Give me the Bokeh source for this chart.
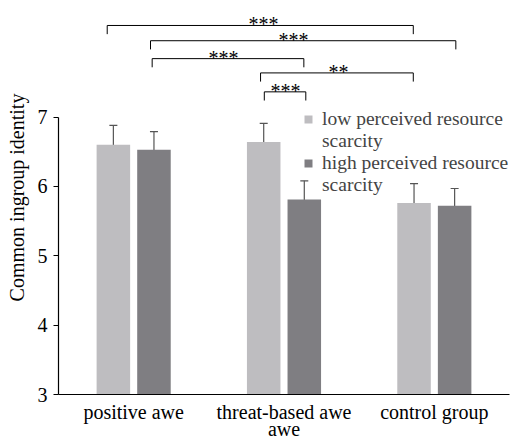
from bokeh.plotting import figure
from bokeh.models import (ColumnDataSource, FactorRange, Range1d, Whisker, TeeHead,
                          Legend, LegendItem, FixedTicker)
from bokeh.transform import dodge
from bokeh.core.properties import value
from bokeh.embed import file_html
from bokeh.resources import INLINE

# ---- data ----
groups = ["positive awe", "threat-based awe\nawe", "control group"]
series_lines = [["low perceived resource", "scarcity"], ["high perceived resource", "scarcity"]]
low_mean = [6.60, 6.64, 5.76]
low_upper = [6.88, 6.91, 6.04]
low_lower = [6.31, 6.35, 5.46]
high_mean = [6.53, 5.81, 5.72]
high_upper = [6.79, 6.08, 5.97]
high_lower = [6.27, 5.56, 5.45]
y_ticks = [3, 4, 5, 6, 7]
y_label = "Common ingroup identity"

# significance annotations
sig_labels = ["***", "***", "***", "**", "***"]
sig_x0 = [0.324, 0.612, 0.623, 1.344, 1.369]
sig_x1 = [2.360, 2.643, 1.632, 2.360, 1.645]
sig_y = [8.32, 8.10, 7.842, 7.636, 7.363]
sig_text_x = [1.364, 1.564, 1.098, 1.863, 1.51]

# ---- styles ----
FONT = "Liberation Serif"
FS = "20px"
LIGHT = "#bebdc0"
DARK = "#7f7e82"
ERR = "#555555"
OFF = 0.135
BW = 0.223
TICK_DROP = 0.125

src = ColumnDataSource(dict(group=groups, low=low_mean, low_up=low_upper, low_lo=low_lower,
                            high=high_mean, high_up=high_upper, high_lo=high_lower))

p = figure(x_range=FactorRange(factors=groups, range_padding=0, factor_padding=0),
           y_range=Range1d(3, 8.68),
           width=517, height=443, output_backend="svg", toolbar_location=None,
           min_border_left=58, min_border_right=8, min_border_top=0, min_border_bottom=20)
p.outline_line_color = None
p.xgrid.visible = False
p.ygrid.visible = False
p.background_fill_color = "white"

r_low = p.vbar(x=dodge("group", -OFF, range=p.x_range), top="low", bottom=3, width=BW,
               source=src, fill_color=LIGHT, line_color=None)
r_high = p.vbar(x=dodge("group", OFF, range=p.x_range), top="high", bottom=3, width=BW,
                source=src, fill_color=DARK, line_color=None)
# empty, invisible renderer used only for the legend's continuation lines
r_blank = p.scatter(x=[], y=[], marker="square", fill_alpha=0, line_alpha=0)

for key, off in (("low", -OFF), ("high", OFF)):
    w = Whisker(source=src, base=dodge("group", off, range=p.x_range),
                upper=key + "_up", lower=key + "_lo", line_color=ERR, line_width=1.2,
                upper_head=TeeHead(size=8, line_color=ERR, line_width=1.2),
                lower_head=TeeHead(size=8, line_color=ERR, line_width=1.2))
    p.add_layout(w)

# brackets
xs = [[a, a, b, b] for a, b in zip(sig_x0, sig_x1)]
ys = [[y - TICK_DROP, y, y, y - TICK_DROP] for y in sig_y]
p.multi_line(xs=xs, ys=ys, line_color="black", line_width=1)
p.text(x=sig_text_x, y=[y + 0.015 for y in sig_y], text=sig_labels, text_align="center",
       text_baseline="alphabetic", text_font=value(FONT), text_font_size=FS, text_color="black")

# axes
xa = p.xaxis[0]
xa.major_tick_line_color = None
xa.major_tick_out = 0
xa.major_tick_in = 0
xa.minor_tick_line_color = None
xa.axis_line_color = "black"
xa.axis_line_width = 1.2
xa.major_label_text_font = FONT
xa.major_label_text_font_size = FS
xa.major_label_text_color = "black"
xa.major_label_standoff = 6
xa.major_label_text_line_height = 0.8

ya = p.yaxis[0]
ya.ticker = FixedTicker(ticks=y_ticks)
ya.bounds = (3, 7)
ya.major_tick_out = 5
ya.major_tick_in = 0
ya.minor_tick_line_color = None
ya.axis_line_color = "black"
ya.axis_line_width = 1.2
ya.major_label_text_font = FONT
ya.major_label_text_font_size = FS
ya.major_label_text_color = "black"
ya.major_label_standoff = 6
ya.axis_label = y_label
ya.axis_label_text_font = FONT
ya.axis_label_text_font_size = FS
ya.axis_label_text_font_style = "normal"
ya.axis_label_text_color = "black"
ya.axis_label_standoff = 7

items = [LegendItem(label=series_lines[0][0], renderers=[r_low]),
         LegendItem(label=series_lines[0][1], renderers=[r_blank]),
         LegendItem(label=series_lines[1][0], renderers=[r_high]),
         LegendItem(label=series_lines[1][1], renderers=[r_blank])]
legend = Legend(items=items, location=(245, 198), padding=0, margin=0, spacing=0,
                glyph_width=10, glyph_height=10, label_standoff=9, label_height=21,
                label_text_font=FONT, label_text_font_size="19.5px", label_text_line_height=1.0,
                border_line_color=None, background_fill_alpha=0)
p.add_layout(legend)

open("out.html", "w").write(file_html(p, INLINE))
